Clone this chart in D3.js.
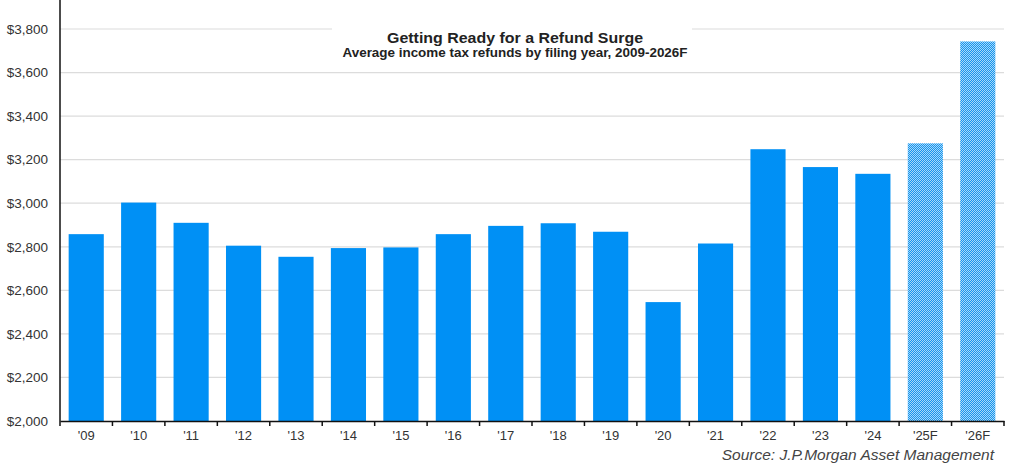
<!DOCTYPE html>
<html>
<head>
<meta charset="utf-8">
<script src="https://cdn.jsdelivr.net/npm/d3@7"></script>
<style>
	body { margin: 0; background: #fff; }
	svg { display: block; font-family: "Liberation Sans", Arial, sans-serif; }
</style>
</head>
<body>
<div class="canvas"></div>
<script>
// data
const years = ["'09", "'10", "'11", "'12", "'13", "'14", "'15", "'16", "'17", "'18", "'19", "'20", "'21", "'22", "'23", "'24", "'25F", "'26F"];
const refunds = [2858, 3003, 2910, 2805, 2754, 2794, 2797, 2858, 2896, 2908, 2869, 2546, 2815, 3248, 3166, 3135, 3275, 3743];
const forecast = [false, false, false, false, false, false, false, false, false, false, false, false, false, false, false, false, true, true];
const yTicks = [2000, 2200, 2400, 2600, 2800, 3000, 3200, 3400, 3600, 3800];

const title = 'Getting Ready for a Refund Surge';
const subtitle = 'Average income tax refunds by filing year, 2009-2026F';
const source = 'Source: J.P.Morgan Asset Management';

const width = 1024;
const height = 465;
const margin = {top: 29, right: 20, bottom: 44, left: 60};
const graphWidth = width - margin.left - margin.right;
const graphHeight = height - margin.top - margin.bottom;

const svg = d3.select('.canvas')
	.append('svg')
	.attr('width', width)
	.attr('height', height);

// checkered fill for forecast bars
const defs = svg.append('defs');
const pat = defs.append('pattern')
	.attr('id', 'checker')
	.attr('patternUnits', 'userSpaceOnUse')
	.attr('width', 2)
	.attr('height', 2);
pat.append('rect').attr('width', 2).attr('height', 2).attr('fill', '#a8d8f8');
pat.append('rect').attr('width', 1).attr('height', 1).attr('fill', '#1594ee');
pat.append('rect').attr('x', 1).attr('y', 1).attr('width', 1).attr('height', 1).attr('fill', '#1594ee');

const graph = svg.append('g')
	.attr('transform', `translate(${margin.left},${margin.top})`);

const y = d3.scaleLinear()
	.domain([2000, 3800])
	.range([graphHeight, 0]);

const x = d3.scaleBand()
	.domain(years)
	.range([0, graphWidth])
	.paddingInner(0.33)
	.paddingOuter(0.165);

// gridlines
graph.append('g')
	.selectAll('line')
	.data(yTicks.slice(1))
	.enter()
	.append('line')
	.attr('x1', 0)
	.attr('x2', graphWidth)
	.attr('y1', d => y(d))
	.attr('y2', d => y(d))
	.attr('stroke', '#dcdcdc')
	.attr('stroke-width', 1.2);

// bars
graph.append('g')
	.selectAll('rect')
	.data(refunds)
	.enter()
	.append('rect')
	.attr('x', (d, i) => x(years[i]))
	.attr('width', x.bandwidth())
	.attr('y', d => y(d))
	.attr('height', d => graphHeight - y(d))
	.attr('fill', (d, i) => forecast[i] ? 'url(#checker)' : '#0090f5');

// y axis
const yAxis = d3.axisLeft(y)
	.tickValues(yTicks)
	.tickSize(0)
	.tickPadding(12)
	.tickFormat(d => '$' + d3.format(',')(d));

const yAxisGroup = graph.append('g').call(yAxis);
yAxisGroup.select('.domain').remove();
yAxisGroup.selectAll('text')
	.attr('font-size', 13.5)
	.attr('fill', '#333')
	.attr('font-family', '"Liberation Sans", Arial, sans-serif');

graph.append('line')
	.attr('x1', 0).attr('x2', 0)
	.attr('y1', -margin.top).attr('y2', graphHeight)
	.attr('stroke', '#111')
	.attr('stroke-width', 1.5);

// x axis
const xAxis = d3.axisBottom(x)
	.tickSize(0)
	.tickPadding(10);

const xAxisGroup = graph.append('g')
	.attr('transform', `translate(0,${graphHeight})`)
	.call(xAxis);
xAxisGroup.select('.domain')
	.attr('stroke', '#111')
	.attr('stroke-width', 1.5);
xAxisGroup.selectAll('text')
	.attr('font-size', 13)
	.attr('fill', '#333')
	.attr('font-family', '"Liberation Sans", Arial, sans-serif');

// tick marks between categories
const step = x.step();
const edges = years.map(d => x(d) - x.paddingInner() * step / 2).concat([graphWidth]);
xAxisGroup.selectAll('line.edge')
	.data(edges)
	.enter()
	.append('line')
	.attr('class', 'edge')
	.attr('x1', d => d).attr('x2', d => d)
	.attr('y1', 0).attr('y2', 5)
	.attr('stroke', '#111')
	.attr('stroke-width', 1.5);

// title box
const cx = 455;
graph.append('rect')
	.attr('x', 272)
	.attr('y', -10)
	.attr('width', 360)
	.attr('height', 42)
	.attr('fill', '#fff');

graph.append('text')
	.attr('x', cx)
	.attr('y', 13.5)
	.attr('text-anchor', 'middle')
	.attr('font-size', 15.5)
	.attr('font-weight', 'bold')
	.attr('fill', '#222')
	.attr('textLength', 256)
	.attr('lengthAdjust', 'spacingAndGlyphs')
	.text(title);

graph.append('text')
	.attr('x', cx)
	.attr('y', 28)
	.attr('text-anchor', 'middle')
	.attr('font-size', 12.5)
	.attr('font-weight', 'bold')
	.attr('fill', '#222')
	.attr('textLength', 345)
	.attr('lengthAdjust', 'spacingAndGlyphs')
	.text(subtitle);

// source
svg.append('text')
	.attr('x', 994)
	.attr('y', 460)
	.attr('text-anchor', 'end')
	.attr('font-size', 15.5)
	.attr('font-style', 'italic')
	.attr('fill', '#444')
	.text(source);
</script>
</body>
</html>
